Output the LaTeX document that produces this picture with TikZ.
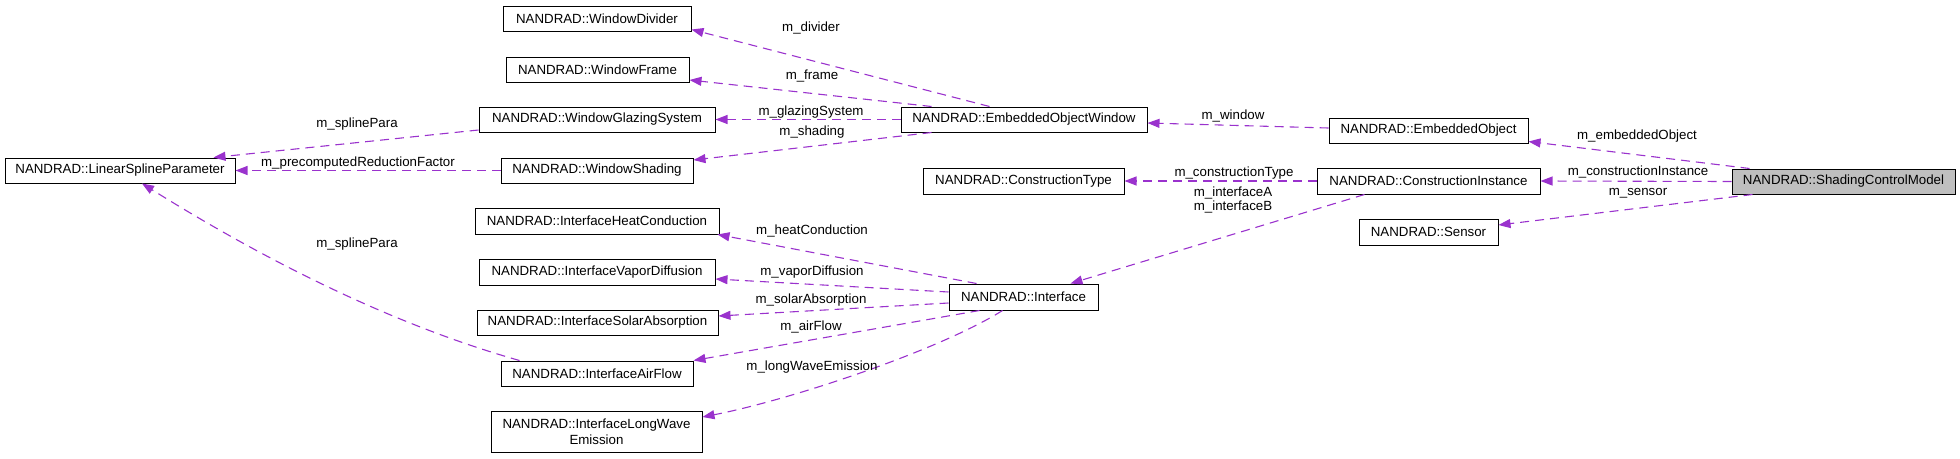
\documentclass[tikz,border=0pt]{standalone}
\usepackage{fontspec}
\setmainfont{Liberation Sans}
\usetikzlibrary{arrows.meta}
\definecolor{edgec}{HTML}{9A32CD}
\definecolor{boxfill}{HTML}{BFBFBF}
\tikzset{
  box/.style={draw=black, line width=1pt, minimum height=25pt, inner sep=0pt, font=\fontsize{13.3}{15.5}\selectfont, align=center},
  lbl/.style={anchor=base, inner sep=0pt, font=\fontsize{13.3}{15.5}\selectfont},
  rel/.style={draw=edgec, line width=1.1pt, dash pattern=on 9pt off 6pt, -{Triangle[length=12pt,width=9pt]}}
}
\begin{document}
\begin{tikzpicture}[x=1pt,y=-1pt]
\useasboundingbox (0,0) rectangle (1960,458);
% nodes
\node[box, minimum width=230pt] (lsp) at (120,170.5) {NANDRAD::LinearSplineParameter};
\node[box, minimum width=188pt] (wd) at (597,18.5) {NANDRAD::WindowDivider};
\node[box, minimum width=183pt] (wf) at (597.5,69.5) {NANDRAD::WindowFrame};
\node[box, minimum width=236pt] (wgs) at (597,119.5) {NANDRAD::WindowGlazingSystem};
\node[box, minimum width=192pt] (ws) at (597,170.5) {NANDRAD::WindowShading};
\node[box, minimum width=244pt, minimum height=26pt] (ihc) at (597,221) {NANDRAD::InterfaceHeatConduction};
\node[box, minimum width=236pt, minimum height=26pt] (ivd) at (597,272) {NANDRAD::InterfaceVaporDiffusion};
\node[box, minimum width=241pt] (isa) at (597.5,322.5) {NANDRAD::InterfaceSolarAbsorption};
\node[box, minimum width=192pt] (iaf) at (597,373.5) {NANDRAD::InterfaceAirFlow};
\node[box, minimum width=211pt, minimum height=41pt] (ilwe) at (596.5,431.5) {NANDRAD::InterfaceLongWave\\Emission};
\node[box, minimum width=246pt] (eow) at (1024,119.5) {NANDRAD::EmbeddedObjectWindow};
\node[box, minimum width=201pt, minimum height=26pt] (ct) at (1023.5,181) {NANDRAD::ConstructionType};
\node[box, minimum width=149pt, minimum height=26pt] (if) at (1023.5,297) {NANDRAD::Interface};
\node[box, minimum width=199pt] (eo) at (1428.5,130.5) {NANDRAD::EmbeddedObject};
\node[box, minimum width=223pt, minimum height=26pt] (ci) at (1428.5,181) {NANDRAD::ConstructionInstance};
\node[box, minimum width=139pt, minimum height=26pt] (se) at (1428.5,232) {NANDRAD::Sensor};
\node[box, fill=boxfill, minimum width=223pt] (scm) at (1843.5,181.5) {NANDRAD::ShadingControlModel};
% edges
\draw[rel] ([xshift=18pt]scm.north west) -- ([yshift=-11pt]eo.east);
\draw[rel] (scm.west) -- (ci.east);
\draw[rel] ([xshift=21pt]scm.south west) -- ([yshift=7pt]se.east);
\draw[rel] ([yshift=2.5pt]eo.west) -- ([yshift=-3.5pt]eow.east);
\draw[rel] ([xshift=89pt]eow.north west) -- ([yshift=2pt]wd.south east);
\draw[rel] ([xshift=31pt]eow.north west) -- ([yshift=-10.5pt]wf.east);
\draw[rel] (eow.west) -- (wgs.east);
\draw[rel] ([xshift=31pt]eow.south west) -- ([yshift=10.5pt]ws.east);
\draw[rel] ([yshift=-10.5pt]wgs.west) -- ([xshift=-22pt]lsp.north east);
\draw[rel] (ws.west) -- (lsp.east);
\draw[rel] ([xshift=19pt]iaf.north west) .. controls (394,325) and (268,262) .. ([xshift=22pt]lsp.south);
\draw[rel] (ci.west) -- (ct.east);
\draw[rel] ([xshift=48pt]ci.south west) -- ([xshift=47pt]if.north);
\draw[rel] ([xshift=28pt]if.north west) -- ([xshift=-2pt]ihc.south east);
\draw[rel] ([yshift=5pt]if.west) -- ([yshift=-7pt]ivd.east);
\draw[rel] ([yshift=-6pt]if.west) -- ([yshift=6.5pt]isa.east);
\draw[rel] ([xshift=31pt]if.south west) -- (iaf.north east);
\draw[rel] ([xshift=54pt]if.south west) .. controls (940,350) and (790,400) .. ([yshift=14.5pt]ilwe.east);
% labels
\node[lbl] (l1) at (1637,139) {m\_embeddedObject};
\node[lbl] (l2) at (1638,175) {m\_constructionInstance};
\node[lbl] (l3) at (1638,195) {m\_sensor};
\node[lbl] (l4) at (1233,119) {m\_window};
\node[lbl] (l5) at (1234,176) {m\_constructionType};
\node[lbl] (l6) at (1233,196) {m\_interfaceA};
\node[lbl] (l7) at (1233,210) {m\_interfaceB};
\node[lbl] (l8) at (811,31) {m\_divider};
\node[lbl] (l9) at (812,79) {m\_frame};
\node[lbl] (l10) at (811,115) {m\_glazingSystem};
\node[lbl] (l11) at (812,135) {m\_shading};
\node[lbl] (l12) at (357,127) {m\_splinePara};
\node[lbl] (l13) at (358,166) {m\_precomputedReductionFactor};
\node[lbl] (l14) at (357,247) {m\_splinePara};
\node[lbl] (l15) at (812,234) {m\_heatConduction};
\node[lbl] (l16) at (812,275) {m\_vaporDiffusion};
\node[lbl] (l17) at (811,303) {m\_solarAbsorption};
\node[lbl] (l18) at (811,330) {m\_airFlow};
\node[lbl] (l19) at (812,370) {m\_longWaveEmission};
\end{tikzpicture}
\end{document}
